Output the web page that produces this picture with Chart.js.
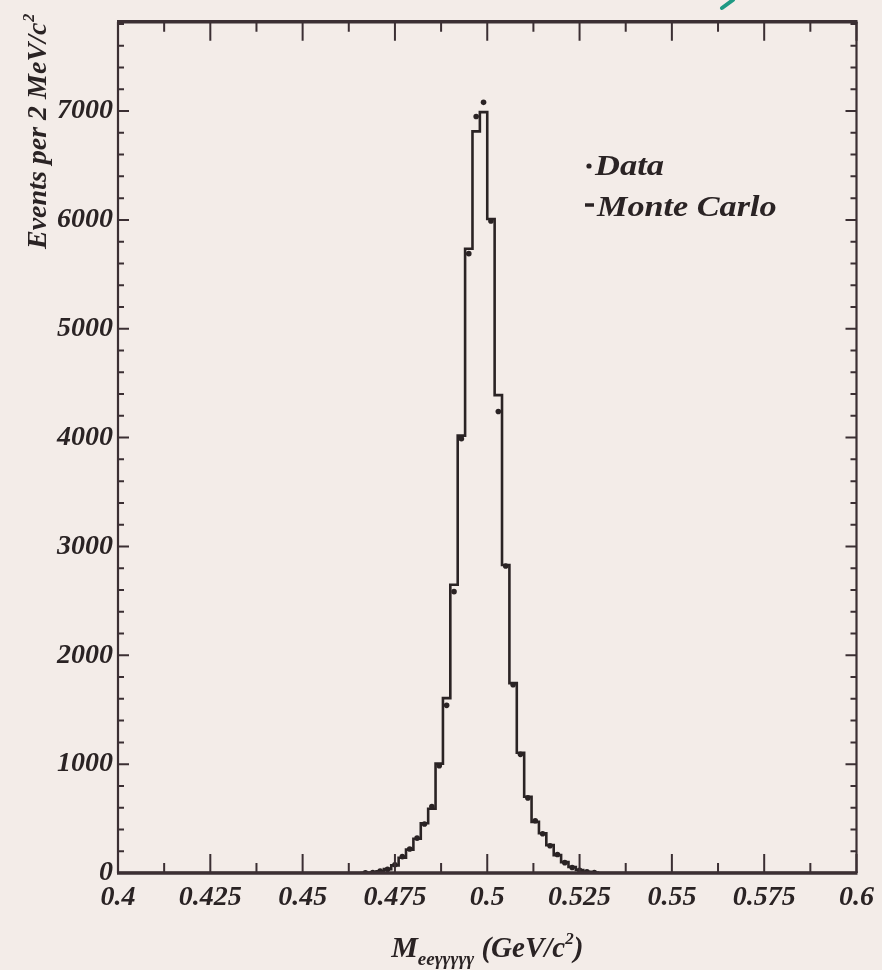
<!DOCTYPE html>
<html>
<head>
<meta charset="utf-8">
<script src="https://cdn.jsdelivr.net/npm/chart.js@4.4.1/dist/chart.umd.min.js"></script>
<style>
  html, body { margin: 0; padding: 0; background: #f3ece8; }
  #wrap { width: 882px; height: 970px; position: relative; }
</style>
</head>
<body>
<div id="wrap"><canvas id="c"></canvas></div>
<script>
// ---- data ----
const binLowEdge = [0.460,0.462,0.464,0.466,0.468,0.470,0.472,0.474,0.476,0.478,
                    0.480,0.482,0.484,0.486,0.488,0.490,0.492,0.494,0.496,0.498,
                    0.500,0.502,0.504,0.506,0.508,0.510,0.512,0.514,0.516,0.518,
                    0.520,0.522,0.524,0.526,0.528,0.530,0.532,0.534,0.536,0.538];
const binWidth = 0.002;
const mcCounts = [0,0,0,1,4,15,36,70,140,215,
                  315,457,590,1005,1607,2648,4018,5735,6813,6990,
                  6009,4390,2830,1744,1105,700,470,365,256,164,
                  100,55,27,10,3,0,0,0,0,0];
const dataCounts = [0,0,0,2,5,18,35,75,150,220,
                    320,450,610,985,1540,2585,3990,5690,6950,7080,
                    5990,4240,2820,1730,1090,690,480,360,250,170,
                    95,50,25,12,3,0,0,0,0,0];
const xTickValues = [0.4,0.425,0.45,0.475,0.5,0.525,0.55,0.575,0.6];
const xTickLabels = ['0.4','0.425','0.45','0.475','0.5','0.525','0.55','0.575','0.6'];
const yTickValues = [0,1000,2000,3000,4000,5000,6000,7000];
const yTickLabels = ['0','1000','2000','3000','4000','5000','6000','7000'];
const xRange = [0.4, 0.6];
const yRange = [0, 7820];
const legendLabels = ['Data', 'Monte Carlo'];

// ---- style ----
const INK = '#2a2324';
const FRAME = '#3b2f33';
const BG = '#f3ece8';
const SERIF = "'Liberation Serif', 'DejaVu Serif', serif";

const mcPoints = [{x: xRange[0], y: 0}];
binLowEdge.forEach((e, i) => mcPoints.push({x: e, y: mcCounts[i]}));
mcPoints.push({x: binLowEdge[binLowEdge.length - 1] + binWidth, y: 0});
mcPoints.push({x: xRange[1], y: 0});

const dataPoints = [];
binLowEdge.forEach((e, i) => { if (dataCounts[i] > 0) dataPoints.push({x: e + binWidth / 2, y: dataCounts[i]}); });

const decor = {
  id: 'decor',
  beforeDraw(chart) {
    const ctx = chart.ctx;
    ctx.save();
    ctx.fillStyle = BG;
    ctx.fillRect(0, 0, chart.width, chart.height);
    // small teal fragment cut off at the top edge
    ctx.strokeStyle = '#1f9a84';
    ctx.lineWidth = 4;
    ctx.lineCap = 'round';
    ctx.beginPath(); ctx.moveTo(722, 8); ctx.lineTo(733, 0); ctx.stroke();
    ctx.restore();
  },
  afterDraw(chart) {
    const ctx = chart.ctx;
    const a = chart.chartArea;
    const xs = chart.scales.x, ys = chart.scales.y;
    ctx.save();
    ctx.strokeStyle = FRAME;
    ctx.lineCap = 'butt';
    // inward ticks on x (bottom and top)
    ctx.lineWidth = 2;
    for (let i = 0; i <= 16; i++) {
      const v = xRange[0] + i * 0.0125;
      const px = xs.getPixelForValue(v);
      const len = (i % 2 === 0) ? 19 : 10;
      ctx.beginPath();
      ctx.moveTo(px, a.bottom); ctx.lineTo(px, a.bottom - len);
      ctx.moveTo(px, a.top); ctx.lineTo(px, a.top + len);
      ctx.stroke();
    }
    // inward ticks on y (left and right)
    for (let v = 0; v <= yRange[1]; v += 200) {
      const py = ys.getPixelForValue(v);
      const len = (v % 1000 === 0) ? 11 : 6;
      ctx.beginPath();
      ctx.moveTo(a.left, py); ctx.lineTo(a.left + len, py);
      ctx.moveTo(a.right, py); ctx.lineTo(a.right - len, py);
      ctx.stroke();
    }
    // frame
    ctx.lineWidth = 2.2;
    ctx.beginPath();
    ctx.moveTo(a.left, a.top); ctx.lineTo(a.left, a.bottom);
    ctx.moveTo(a.right, a.top); ctx.lineTo(a.right, a.bottom);
    ctx.stroke();
    ctx.lineWidth = 3.5;
    ctx.beginPath();
    ctx.moveTo(a.left - 1, a.top); ctx.lineTo(a.right + 1, a.top);
    ctx.moveTo(a.left - 1, a.bottom); ctx.lineTo(a.right + 1, a.bottom);
    ctx.stroke();

    // legend
    ctx.fillStyle = INK;
    ctx.strokeStyle = INK;
    ctx.beginPath(); ctx.arc(589, 166, 2.6, 0, Math.PI * 2); ctx.fill();
    ctx.lineWidth = 3.5;
    ctx.beginPath(); ctx.moveTo(585, 205); ctx.lineTo(594, 205); ctx.stroke();
    ctx.font = "italic bold 30px " + SERIF;
    ctx.textBaseline = 'alphabetic';
    ctx.textAlign = 'left';
    ctx.save(); ctx.translate(595, 175); ctx.scale(1.15, 1); ctx.fillText(legendLabels[0], 0, 0); ctx.restore();
    ctx.save(); ctx.translate(597, 216); ctx.scale(1.14, 1); ctx.fillText(legendLabels[1], 0, 0); ctx.restore();

    // x title
    const cx = (a.left + a.right) / 2;
    const parts = [
      {t: 'M', f: 30, dy: 0},
      {t: 'eeγγγγγ', f: 19, dy: 8},
      {t: ' (GeV/c', f: 29, dy: 0},
      {t: '2', f: 17, dy: -13},
      {t: ')', f: 29, dy: 0}
    ];
    let tot = 0;
    parts.forEach(p => { ctx.font = "italic bold " + p.f + "px " + SERIF; p.w = ctx.measureText(p.t).width; tot += p.w; });
    let x0 = cx - tot / 2;
    const base = 957;
    parts.forEach(p => { ctx.font = "italic bold " + p.f + "px " + SERIF; ctx.fillText(p.t, x0, base + p.dy); x0 += p.w; });

    // y title (rotated)
    ctx.save();
    ctx.translate(46, 249);
    ctx.rotate(-Math.PI / 2);
    ctx.font = "italic bold 28px " + SERIF;
    const yt = 'Events per 2 MeV/c';
    ctx.fillText(yt, 0, 0);
    const w = ctx.measureText(yt).width;
    ctx.font = "italic bold 16px " + SERIF;
    ctx.fillText('2', w + 1, -12);
    ctx.restore();

    ctx.restore();
  }
};

const tickFont = {family: SERIF, size: 28, weight: 'bold', style: 'italic'};

new Chart(document.getElementById('c'), {
  type: 'line',
  data: {
    datasets: [
      {
        label: 'Monte Carlo',
        data: mcPoints,
        stepped: 'before',
        borderColor: INK,
        borderWidth: 2.6,
        pointRadius: 0,
        fill: false,
        order: 2
      },
      {
        label: 'Data',
        data: dataPoints,
        showLine: false,
        pointRadius: 2.8,
        pointBackgroundColor: INK,
        pointBorderColor: INK,
        pointBorderWidth: 0,
        order: 1
      }
    ]
  },
  options: {
    responsive: true,
    maintainAspectRatio: false,
    animation: false,
    layout: { padding: { top: 17, right: 22, left: 0, bottom: 0 } },
    plugins: { legend: { display: false }, tooltip: { enabled: false } },
    scales: {
      x: {
        type: 'linear',
        min: xRange[0], max: xRange[1],
        afterBuildTicks: s => { s.ticks = xTickValues.map(v => ({value: v})); },
        afterFit: s => { s.height = 97; },
        grid: { display: false, drawTicks: false },
        border: { display: false },
        ticks: {
          autoSkip: false, maxRotation: 0, minRotation: 0,
          padding: 8, color: INK, font: tickFont,
          callback: (v, i) => xTickLabels[i]
        }
      },
      y: {
        type: 'linear',
        min: yRange[0], max: yRange[1],
        afterBuildTicks: s => { s.ticks = yTickValues.map(v => ({value: v})); },
        afterFit: s => { s.width = 118; },
        grid: { display: false, drawTicks: false },
        border: { display: false },
        ticks: {
          autoSkip: false, padding: 5, color: INK, font: tickFont,
          callback: (v, i) => yTickLabels[i]
        }
      }
    }
  },
  plugins: [decor]
});
</script>
</body>
</html>
